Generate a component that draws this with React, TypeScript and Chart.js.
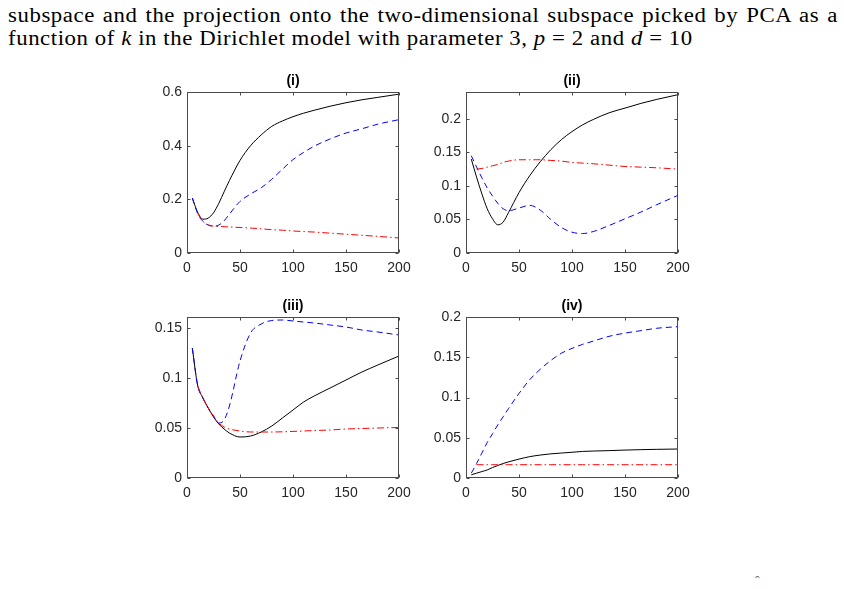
import React, { useEffect, useRef } from "react";
import { Chart, registerables } from "chart.js";
Chart.register(...registerables);

// k values (x axis)
const kValues = [5, 10, 15, 20, 25, 30, 35, 40, 50, 60, 70, 80, 90, 100, 110, 120, 135, 150, 165, 180, 200];

// Panel (i)
const p1Black = [0.205, 0.152, 0.126, 0.13, 0.15, 0.185, 0.228, 0.27, 0.345, 0.4, 0.44, 0.472, 0.492, 0.508, 0.521, 0.532, 0.547, 0.56, 0.571, 0.58, 0.592];
const p1Blue = [0.205, 0.148, 0.118, 0.104, 0.1, 0.104, 0.12, 0.145, 0.192, 0.22, 0.243, 0.275, 0.312, 0.348, 0.375, 0.398, 0.425, 0.447, 0.463, 0.48, 0.497];
const p1Red = [null, 0.148, 0.118, 0.105, 0.1, 0.099, 0.098, 0.097, 0.095, 0.093, 0.09, 0.087, 0.085, 0.082, 0.08, 0.078, 0.074, 0.07, 0.066, 0.062, 0.056];

// Panel (ii)
const p2Black = [0.14, 0.113, 0.088, 0.066, 0.051, 0.042, 0.046, 0.06, 0.09, 0.115, 0.136, 0.154, 0.169, 0.181, 0.191, 0.199, 0.209, 0.216, 0.223, 0.229, 0.236];
const p2Blue = [0.145, 0.128, 0.112, 0.097, 0.085, 0.074, 0.066, 0.063, 0.067, 0.071, 0.064, 0.05, 0.038, 0.031, 0.029, 0.032, 0.041, 0.051, 0.061, 0.072, 0.086];
const p2Red = [null, 0.125, 0.126, 0.128, 0.13, 0.132, 0.135, 0.137, 0.139, 0.139, 0.139, 0.138, 0.137, 0.135, 0.134, 0.133, 0.131, 0.129, 0.128, 0.127, 0.125];

// Panel (iii)
const p3Black = [0.13, 0.093, 0.08, 0.07, 0.061, 0.054, 0.049, 0.045, 0.041, 0.042, 0.046, 0.052, 0.06, 0.068, 0.076, 0.082, 0.09, 0.098, 0.106, 0.113, 0.122];
const p3Blue = [0.13, 0.093, 0.08, 0.07, 0.062, 0.055, 0.058, 0.072, 0.117, 0.145, 0.154, 0.1575, 0.158, 0.157, 0.156, 0.155, 0.153, 0.151, 0.148, 0.146, 0.143];
const p3Red = [null, 0.092, 0.08, 0.07, 0.062, 0.055, 0.051, 0.049, 0.047, 0.046, 0.046, 0.046, 0.0462, 0.0466, 0.047, 0.0475, 0.048, 0.049, 0.0495, 0.05, 0.0505];

// Panel (iv)
const p4Black = [0.004, 0.006, 0.008, 0.01, 0.013, 0.0155, 0.018, 0.02, 0.0235, 0.0265, 0.0285, 0.03, 0.031, 0.032, 0.033, 0.0335, 0.034, 0.0347, 0.0352, 0.0356, 0.036];
const p4Blue = [0.006, 0.018, 0.031, 0.044, 0.055, 0.066, 0.076, 0.086, 0.105, 0.122, 0.135, 0.146, 0.155, 0.161, 0.166, 0.17, 0.176, 0.18, 0.183, 0.186, 0.188];
const p4Red = [null, 0.0165, 0.0165, 0.0165, 0.0165, 0.0165, 0.0165, 0.0165, 0.0165, 0.0165, 0.0165, 0.0165, 0.0165, 0.0165, 0.0165, 0.0165, 0.0165, 0.0165, 0.0165, 0.0165, 0.0165];

const xMax = 200;
const xStep = 50;
const titles = ["(i)", "(ii)", "(iii)", "(iv)"];
const yMaxes = [0.6, 0.24, 0.161, 0.2];
const ySteps = [0.2, 0.05, 0.05, 0.05];

const AXIS_FONT = '"Liberation Sans", Arial, Helvetica, sans-serif';
const PADL = 50;
const PADT = 26;
const PADR = 20;
const PADB = 30;

function fmt(v: number) {
  return String(Math.round(v * 1000) / 1000);
}

const boxPlugin = (title: string) => ({
  id: "matlabBox",
  afterDraw(chart: any) {
    const ctx = chart.ctx;
    const a = chart.chartArea;
    const l = Math.round(a.left) + 0.5;
    const r = Math.round(a.right) - 0.5;
    const t = Math.round(a.top) + 0.5;
    const b = Math.round(a.bottom) - 0.5;
    ctx.save();
    ctx.strokeStyle = "#4a4a4a";
    ctx.lineWidth = 1;
    ctx.setLineDash([]);
    ctx.strokeRect(l, t, r - l, b - t);
    const tl = 3;
    ctx.beginPath();
    const xs = chart.scales.x;
    xs.ticks.forEach((tk: any) => {
      const px = Math.round(xs.getPixelForValue(tk.value)) + 0.5;
      ctx.moveTo(px, b);
      ctx.lineTo(px, b - tl);
      ctx.moveTo(px, t);
      ctx.lineTo(px, t + tl);
    });
    const ys = chart.scales.y;
    ys.ticks.forEach((tk: any) => {
      const py = Math.round(ys.getPixelForValue(tk.value)) + 0.5;
      ctx.moveTo(l, py);
      ctx.lineTo(l + tl, py);
      ctx.moveTo(r, py);
      ctx.lineTo(r - tl, py);
    });
    ctx.stroke();
    ctx.fillStyle = "#000";
    ctx.font = `bold 14px ${AXIS_FONT}`;
    ctx.textAlign = "center";
    ctx.textBaseline = "alphabetic";
    ctx.fillText(title, (a.left + a.right) / 2, a.top - 7);
    ctx.restore();
  },
});

type PanelProps = {
  left: number;
  top: number;
  w: number;
  h: number;
  idx: number;
  black: (number | null)[];
  blue: (number | null)[];
  red: (number | null)[];
};

function Panel({ left, top, w, h, idx, black, blue, red }: PanelProps) {
  const ref = useRef<HTMLCanvasElement>(null);
  useEffect(() => {
    const toPts = (arr: (number | null)[]) => kValues.map((k, i) => ({ x: k, y: arr[i] }));
    const common = {
      pointRadius: 0,
      borderWidth: 1,
      fill: false,
      cubicInterpolationMode: "monotone" as const,
      spanGaps: false,
    };
    const chart = new Chart(ref.current as HTMLCanvasElement, {
      type: "line",
      data: {
        datasets: [
          { ...common, data: toPts(red) as any, borderColor: "#ff0000", borderDash: [7, 3, 1.5, 3] },
          { ...common, data: toPts(blue) as any, borderColor: "#0000ff", borderDash: [6, 4] },
          { ...common, data: toPts(black) as any, borderColor: "#000000" },
        ],
      },
      options: {
        animation: false,
        responsive: false,
        devicePixelRatio: 1,
        layout: { padding: { left: 0, top: PADT, right: PADR, bottom: 0 } },
        plugins: { legend: { display: false }, tooltip: { enabled: false }, title: { display: false } },
        scales: {
          x: {
            type: "linear",
            min: 0,
            max: xMax,
            grid: { display: false, drawTicks: false },
            border: { display: false },
            ticks: {
              stepSize: xStep,
              includeBounds: false,
              maxRotation: 0,
              autoSkip: false,
              padding: 7,
              color: "#262626",
              font: { family: AXIS_FONT, size: 14 },
              callback: (v: any) => fmt(Number(v)),
            },
            afterFit: (s: any) => {
              s.height = PADB;
            },
          },
          y: {
            type: "linear",
            min: 0,
            max: yMaxes[idx],
            grid: { display: false, drawTicks: false },
            border: { display: false },
            ticks: {
              stepSize: ySteps[idx],
              includeBounds: false,
              autoSkip: false,
              padding: 5,
              color: "#262626",
              font: { family: AXIS_FONT, size: 14 },
              callback: (v: any) => fmt(Number(v)),
            },
            afterFit: (s: any) => {
              s.width = PADL;
            },
          },
        },
      },
      plugins: [boxPlugin(titles[idx])],
    });
    return () => chart.destroy();
  }, []);
  const cw = w + PADL + PADR;
  const ch = h + PADT + PADB;
  return (
    <canvas
      ref={ref}
      width={cw}
      height={ch}
      style={{ position: "absolute", left: left - PADL, top: top - PADT, width: cw, height: ch }}
    />
  );
}

const SX = 1.14;

export default function App() {
  return (
    <div style={{ position: "absolute", left: 0, top: 0, width: 844, height: 589, background: "#fff", overflow: "hidden" }}>
      <div
        style={{
          position: "absolute",
          left: 8,
          top: 4,
          width: Math.round(830 / SX),
          transform: `scaleX(${SX})`,
          transformOrigin: "0 0",
          fontFamily: '"Liberation Serif", "Times New Roman", serif',
          fontSize: 20,
          lineHeight: "23px",
          letterSpacing: "0.5px",
          color: "#000",
        }}
      >
        <div style={{ textAlign: "justify", textAlignLast: "justify", whiteSpace: "nowrap" as any }}>
          subspace and the projection onto the two-dimensional subspace picked by PCA as a
        </div>
        <div style={{ whiteSpace: "nowrap" }}>
          function of <i>k</i> in the Dirichlet model with parameter 3, <i>p</i> = 2 and <i>d</i> = 10
        </div>
      </div>
      <Panel left={187} top={92} w={212} h={161} idx={0} black={p1Black} blue={p1Blue} red={p1Red} />
      <Panel left={466} top={92} w={212} h={161} idx={1} black={p2Black} blue={p2Blue} red={p2Red} />
      <Panel left={187} top={317} w={212} h={161} idx={2} black={p3Black} blue={p3Blue} red={p3Red} />
      <Panel left={466} top={317} w={212} h={161} idx={3} black={p4Black} blue={p4Blue} red={p4Red} />
      <span
        style={{
          position: "absolute",
          left: 755,
          top: 574,
          fontFamily: '"Liberation Serif", serif',
          fontSize: 14,
          color: "#666",
        }}
      >
        ˆ
      </span>
    </div>
  );
}
